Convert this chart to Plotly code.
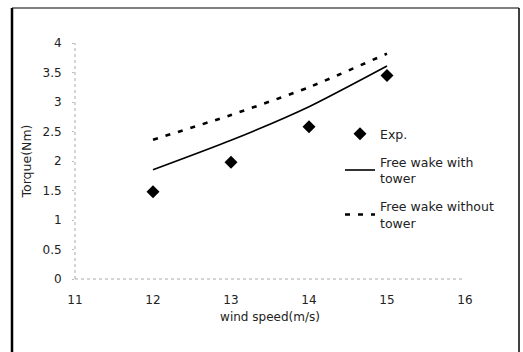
import plotly.graph_objects as go

wind_speed = [12, 13, 14, 15]
exp_torque = [1.48, 1.98, 2.58, 3.45]
with_tower = [1.85, 2.35, 2.92, 3.61]
without_tower = [2.36, 2.78, 3.25, 3.82]

x_ticks = [11, 12, 13, 14, 15, 16]
y_ticks = [0, 0.5, 1, 1.5, 2, 2.5, 3, 3.5, 4]
y_tick_labels = ["0", "0.5", "1", "1.5", "2", "2.5", "3", "3.5", "4"]

W, H = 523, 352
ML, MR, MT, MB = 75, 58, 43, 73
pw = W - ML - MR
ph = H - MT - MB

def px2paper_x(px):
    return (px - ML) / pw

def px2paper_y(py):
    return (H - MB - py) / ph

fig = go.Figure()
fig.add_trace(go.Scatter(
    x=wind_speed, y=exp_torque, mode="markers", name="Exp.",
    marker=dict(symbol="diamond", size=10, color="black"),
    legendgroup="a"))
fig.add_trace(go.Scatter(
    x=wind_speed, y=with_tower, mode="lines", name="Free wake with<br>tower",
    line=dict(color="black", width=1.6, shape="spline", smoothing=0.6),
    legendgroup="b"))
fig.add_trace(go.Scatter(
    x=wind_speed, y=without_tower, mode="lines", name="Free wake without<br>tower",
    line=dict(color="black", width=2.6, dash="5px,8px", shape="spline", smoothing=0.6),
    legendgroup="c"))

font = "DejaVu Sans, Arial, sans-serif"

# outer frame (left, top, right)
fx0, fx1 = px2paper_x(12), px2paper_x(519)
fy0, fy1 = px2paper_y(352), px2paper_y(8)
fig.add_shape(type="line", xref="paper", yref="paper", x0=fx0, x1=fx0, y0=fy0, y1=fy1,
              line=dict(color="black", width=2.5))
fig.add_shape(type="line", xref="paper", yref="paper", x0=fx0, x1=fx1, y0=fy1, y1=fy1,
              line=dict(color="black", width=1.2))
fig.add_shape(type="line", xref="paper", yref="paper", x0=fx1, x1=fx1, y0=fy0, y1=fy1,
              line=dict(color="black", width=1.5))
# dotted axis lines
fig.add_shape(type="line", xref="paper", yref="paper", x0=0, x1=0, y0=0, y1=1,
              line=dict(color="#aaaaaa", width=1, dash="dot"))
fig.add_shape(type="line", xref="paper", yref="paper", x0=0, x1=1, y0=0, y1=0,
              line=dict(color="#aaaaaa", width=1, dash="dot"))

fig.update_layout(
    width=W, height=H,
    margin=dict(l=ML, r=MR, t=MT, b=MB),
    paper_bgcolor="white", plot_bgcolor="white",
    font=dict(family=font, size=11, color="#222222"),
    showlegend=True,
    legend=dict(x=px2paper_x(340), y=px2paper_y(119), xanchor="left", yanchor="top",
                bgcolor="rgba(0,0,0,0)", font=dict(size=12.5, family=font),
                tracegroupgap=9, itemwidth=30),
    xaxis=dict(range=[11, 16], tickvals=x_ticks, showgrid=False, zeroline=False,
               showline=False, ticks="", tickfont=dict(size=12), ticklabelstandoff=12,
               title=dict(text="wind speed(m/s)", font=dict(size=12), standoff=6)),
    yaxis=dict(range=[0, 4], tickvals=y_ticks, ticktext=y_tick_labels, showgrid=False,
               zeroline=False, showline=False, ticks="outside", ticklen=2,
               tickcolor="#bbbbbb", tickfont=dict(size=12), ticklabelstandoff=8,
               title=dict(text="Torque(Nm)", font=dict(size=12.5), standoff=8)),
)

fig.write_html("out.html")
